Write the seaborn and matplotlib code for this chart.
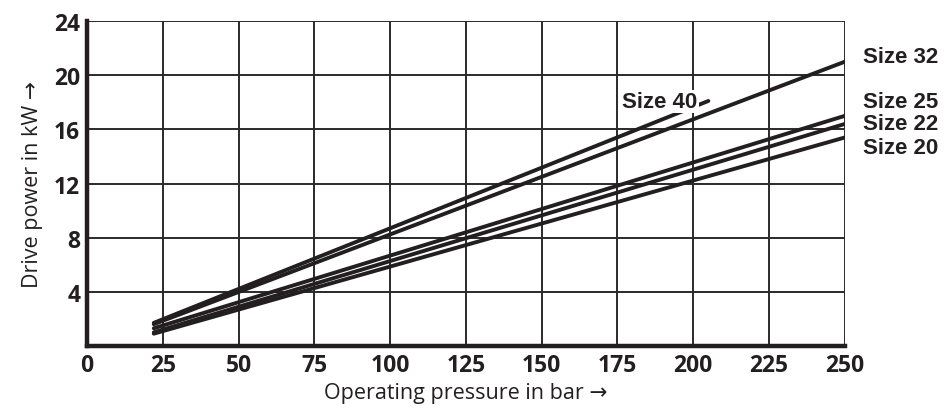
import matplotlib
matplotlib.use("Agg")
import numpy as np
import pandas as pd
import seaborn as sns
from matplotlib import pyplot as plt

# データ
pressure_start = 22
size_names = ["Size 40", "Size 32", "Size 25", "Size 22", "Size 20"]
x_end = [205, 250, 250, 250, 250]
y_start = [1.7, 1.6, 1.3, 1.0, 0.9]
y_end = [18.1, 21.0, 17.0, 16.4, 15.4]

x_ticks = [0, 25, 50, 75, 100, 125, 150, 175, 200, 225, 250]
y_ticks = [4, 8, 12, 16, 20, 24]

rows = []
for name, xe, ys, ye in zip(size_names, x_end, y_start, y_end):
    rows.append({"size": name, "pressure": pressure_start, "power": ys})
    rows.append({"size": name, "pressure": xe, "power": ye})
df = pd.DataFrame(rows)

sns.set_style("white")
plt.rcParams["font.family"] = ["Open Sans", "DejaVu Sans"]

fig = plt.figure(figsize=(9.47, 4.10), dpi=100)
ax = fig.add_axes([0.092, 0.154, 0.8, 0.792])

sns.lineplot(data=df, x="pressure", y="power", units="size", estimator=None,
             color="#231f20", linewidth=2.8, ax=ax, legend=False)

ax.set_xlim(0, 250)
ax.set_ylim(0, 24)
ax.set_xticks(x_ticks)
ax.set_yticks(y_ticks)
ax.grid(True, color="#2a2a2a", linewidth=1.4)
ax.set_axisbelow(True)
for lab in ax.get_xticklabels() + ax.get_yticklabels():
    lab.set_fontweight("bold")
    lab.set_fontsize(16.5)
    lab.set_color("#231f20")
ax.tick_params(length=0, pad=5)

for s in ["top", "right"]:
    ax.spines[s].set_visible(False)
for s in ["left", "bottom"]:
    ax.spines[s].set_linewidth(3.2)
    ax.spines[s].set_color("#231f20")

ax.set_xlabel("Operating pressure in bar →", fontsize=15.5, color="#231f20", labelpad=4)
ax.set_ylabel("Drive power in kW →", fontsize=15.5, color="#231f20", labelpad=8)

# 右側のラベル
label_y = {"Size 32": 21.35, "Size 25": 18.05, "Size 22": 16.45, "Size 20": 14.65}
for name, yv in label_y.items():
    ax.text(256, yv, name, fontsize=16, fontweight="bold", va="center",
            color="#231f20", family=["Liberation Sans", "DejaVu Sans"], clip_on=False)
ax.text(176.5, 18.05, "Size 40", fontsize=16, fontweight="bold", va="center",
        color="#231f20", family=["Liberation Sans", "DejaVu Sans"],
        bbox=dict(facecolor="white", edgecolor="none", pad=1))

fig.savefig("out.png", dpi=100)
